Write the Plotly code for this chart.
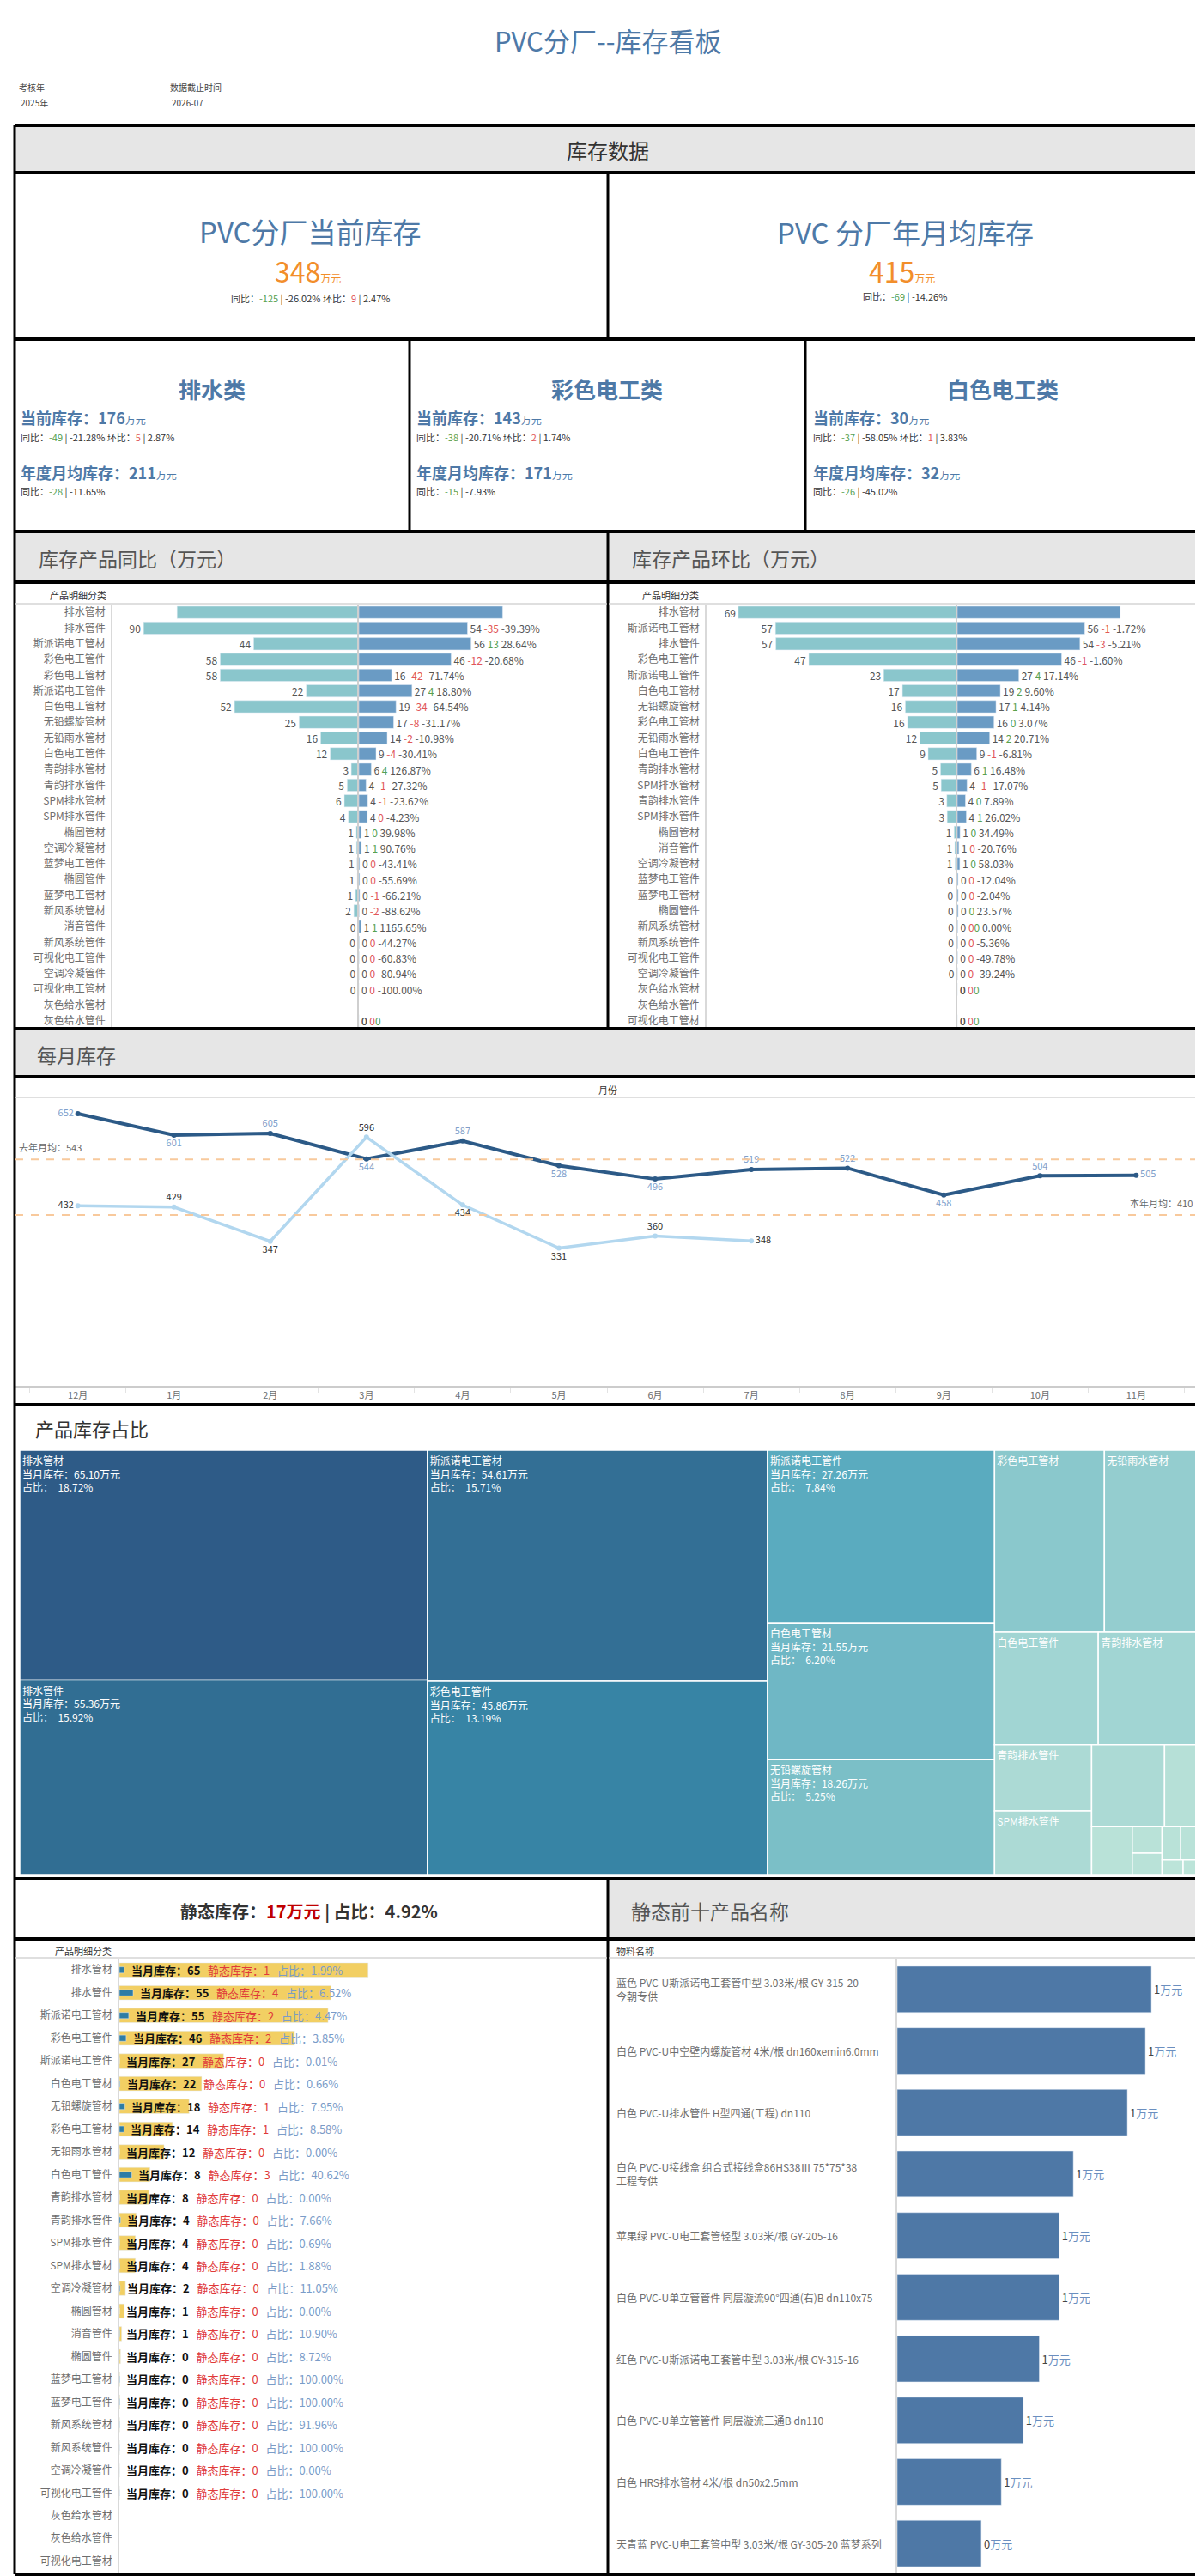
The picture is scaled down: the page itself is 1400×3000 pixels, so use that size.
import plotly.graph_objects as go

W, H = 1400, 3000
FONT = "Noto Sans CJK SC"
BLUE = "#4e79a7"
ORANGE = "#f28e2b"
GREEN = "#59a14f"
RED = "#e15759"
DARK = "#333333"
GRAY = "#555555"

# ---------------- data ----------------
check_year = "2025年"
cutoff = "2026-07"

total_cur, total_yoy, total_yoy_pct, total_mom, total_mom_pct = 348, -125, -26.02, 9, 2.47
total_avg, total_avg_yoy, total_avg_yoy_pct = 415, -69, -14.26

cls_names = ["排水类", "彩色电工类", "白色电工类"]
cls_cur = [176, 143, 30]
cls_yoy = [-49, -38, -37]
cls_yoy_pct = [-21.28, -20.71, -58.05]
cls_mom = [5, 2, 1]
cls_mom_pct = [2.87, 1.74, 3.83]
cls_avg = [211, 171, 32]
cls_avg_yoy = [-28, -15, -26]
cls_avg_yoy_pct = [-11.65, -7.93, -45.02]

# 同比
yoy_cats = ["排水管材", "排水管件", "斯派诺电工管材", "彩色电工管件", "彩色电工管材", "斯派诺电工管件",
            "白色电工管材", "无铅螺旋管材", "无铅雨水管材", "白色电工管件", "青韵排水管材", "青韵排水管件",
            "SPM排水管材", "SPM排水管件", "椭圆管材", "空调冷凝管材", "蓝梦电工管件", "椭圆管件",
            "蓝梦电工管材", "新风系统管材", "消音管件", "新风系统管件", "可视化电工管件", "空调冷凝管件",
            "可视化电工管材", "灰色给水管材", "灰色给水管件"]
yoy_last = [76, 90, 44, 58, 58, 22, 52, 25, 16, 12, 3.2, 4.9, 6.1, 4.4, 1.1, 1.0, 0.8, 0.7,
            1.4, 2.1, 0.1, 0.3, 0.3, 0.2, 0.1, None, 0.0]
yoy_cur = [72, 54.4, 56.2, 46.2, 16.4, 26.6, 18.6, 17.4, 14.2, 8.6, 6.2, 3.6, 4.4, 4.3, 1.2, 1.3,
           0.4, 0.4, 0.45, 0.2, 1.1, 0.2, 0.1, 0.05, 0.0, None, 0.0]
yoy_diff = [None, -35, 13, -12, -42, 4, -34, -8, -2, -4, 4, -1, -1, -0.2, 0.3, 0.6, -0.3, -0.4,
            -0.9, -1.9, 1.0, -0.1, -0.2, -0.2, -0.1, None, None]
yoy_pct = [None, -39.39, 28.64, -20.68, -71.74, 18.80, -64.54, -31.17, -10.98, -30.41, 126.87,
           -27.32, -23.62, -4.23, 39.98, 90.76, -43.41, -55.69, -66.21, -88.62, 1165.65, -44.27,
           -60.83, -80.94, -100.00, None, None]
yoy_hide_left = ["排水管材"]
yoy_hide_right = ["排水管材"]

# 环比
mom_cats = ["排水管材", "斯派诺电工管材", "排水管件", "彩色电工管件", "斯派诺电工管件", "白色电工管材",
            "无铅螺旋管材", "彩色电工管材", "无铅雨水管材", "白色电工管件", "青韵排水管材", "SPM排水管材",
            "青韵排水管件", "SPM排水管件", "椭圆管材", "消音管件", "空调冷凝管材", "蓝梦电工管件",
            "蓝梦电工管材", "椭圆管件", "新风系统管材", "新风系统管件", "可视化电工管件", "空调冷凝管件",
            "灰色给水管材", "灰色给水管件", "可视化电工管材"]
mom_prev = [69, 57.3, 57.2, 46.8, 23.2, 17.3, 16.4, 15.7, 11.8, 9.2, 5.3, 5.1, 3.3, 3.2, 1.0, 0.8,
            0.7, 0.4, 0.4, 0.3, 0.2, 0.2, 0.2, 0.1, 0.0, None, 0.0]
mom_cur = [72, 56.3, 54.2, 46.1, 27.2, 19.0, 17.1, 16.2, 14.3, 8.6, 6.2, 4.3, 3.6, 4.0, 1.2, 0.7,
           1.1, 0.35, 0.4, 0.4, 0.2, 0.2, 0.1, 0.05, 0.0, None, 0.0]
mom_diff = [None, -1, -3, -0.8, 4, 1.8, 0.7, 0.4, 2.4, -0.6, 0.9, -0.9, 0.3, 0.8, 0.3, -0.2, 0.4,
            -0.05, -0.01, 0.08, None, -0.01, -0.1, -0.04, None, None, None]
mom_pct = [None, -1.72, -5.21, -1.60, 17.14, 9.60, 4.14, 3.07, 20.71, -6.81, 16.48, -17.07, 7.89,
           26.02, 34.49, -20.76, 58.03, -12.04, -2.04, 23.57, 0.00, -5.36, -49.78, -39.24, None,
           None, None]
mom_hide_left = []
mom_hide_right = ["排水管材"]

# 每月库存
months = ["12月", "1月", "2月", "3月", "4月", "5月", "6月", "7月", "8月", "9月", "10月", "11月"]
last_year = [652, 601, 605, 544, 587, 528, 496, 519, 522, 458, 504, 505]
this_year = [432, 429, 347, 596, 434, 331, 360, 348]
last_avg = 543
this_avg = 410

# 产品库存占比
tm_labels = ["排水管材", "排水管件", "斯派诺电工管材", "彩色电工管件", "斯派诺电工管件", "白色电工管材",
             "无铅螺旋管材", "彩色电工管材", "无铅雨水管材", "白色电工管件", "青韵排水管材", "青韵排水管件",
             "SPM排水管件", "SPM排水管材", "空调冷凝管材", "椭圆管材", "消音管件", "椭圆管件",
             "蓝梦电工管材", "蓝梦电工管件", "新风系统管材", "可视化电工管件"]
tm_values = [65.10, 55.36, 54.61, 45.86, 27.26, 21.55, 18.26, 13.9, 11.7, 8.1, 7.7, 4.47, 4.35,
             4.15, 1.84, 1.38, 0.55, 0.46, 0.43, 0.37, 0.23, 0.15]
tm_share = ["18.72%", "15.92%", "15.71%", "13.19%", "7.84%", "6.20%", "5.25%"]

# 静态库存
static_total = 17
static_share = 4.92
st_cats = ["排水管材", "排水管件", "斯派诺电工管材", "彩色电工管件", "斯派诺电工管件", "白色电工管材",
           "无铅螺旋管材", "彩色电工管材", "无铅雨水管材", "白色电工管件", "青韵排水管材", "青韵排水管件",
           "SPM排水管件", "SPM排水管材", "空调冷凝管材", "椭圆管材", "消音管件", "椭圆管件",
           "蓝梦电工管材", "蓝梦电工管件", "新风系统管材", "新风系统管件", "空调冷凝管件", "可视化电工管件",
           "灰色给水管材", "灰色给水管件", "可视化电工管材"]
st_cur = [65.1, 55.36, 54.61, 45.86, 27.26, 21.55, 18.26, 13.9, 11.7, 8.0, 7.7, 4.4, 4.2, 4.2,
          1.6, 1.3, 0.6, 0.3, 0.1, 0.1, 0.05, 0.02, 0.02, 0.02, None, None, None]
st_static = [1.3, 3.6, 2.45, 1.77, 0.003, 0.14, 1.45, 1.2, 0.0, 3.25, 0.0, 0.31, 0.03, 0.08, 0.18,
             0.0, 0.07, 0.03, 0.1, 0.1, 0.05, 0.02, 0.0, 0.02, None, None, None]
st_pct = [1.99, 6.52, 4.47, 3.85, 0.01, 0.66, 7.95, 8.58, 0.00, 40.62, 0.00, 7.66, 0.69, 1.88,
          11.05, 0.00, 10.90, 8.72, 100.00, 100.00, 91.96, 100.00, 0.00, 100.00, None, None, None]

# 静态前十
top_names = ["蓝色 PVC-U斯派诺电工套管中型 3.03米/根 GY-315-20<br>今朝专供",
             "白色 PVC-U中空壁内螺旋管材 4米/根 dn160xemin6.0mm",
             "白色 PVC-U排水管件 H型四通(工程) dn110",
             "白色 PVC-U接线盒 组合式接线盒86HS38Ⅲ 75*75*38<br>工程专供",
             "苹果绿 PVC-U电工套管轻型 3.03米/根 GY-205-16",
             "白色 PVC-U单立管管件 同层漩流90°四通(右)B dn110x75",
             "红色 PVC-U斯派诺电工套管中型 3.03米/根 GY-315-16",
             "白色 PVC-U单立管管件 同层漩流三通B dn110",
             "白色 HRS排水管材 4米/根 dn50x2.5mm",
             "天青蓝 PVC-U电工套管中型 3.03米/根 GY-305-20 蓝梦系列"]
top_values = [1.27, 1.24, 1.15, 0.88, 0.81, 0.81, 0.71, 0.63, 0.52, 0.42]


# ---------------- helpers ----------------
def fx(x):
    return x / W


def fy(y):
    return 1 - y / H


def c(s, col):
    return f"<span style='color:{col}'>{s}</span>"


shapes = []
annos = []


def text(x, y, s, size=12, color=GRAY, xanchor="center", yanchor="middle", bold=False):
    annos.append(dict(x=fx(x), y=fy(y), xref="paper", yref="paper", showarrow=False,
                      text=f"<b>{s}</b>" if bold else s, xanchor=xanchor, yanchor=yanchor,
                      font=dict(family=FONT, size=size, color=color)))


def hline(y, x0=9, x1=1391, w=4, color="black"):
    shapes.append(dict(type="line", xref="paper", yref="paper", x0=fx(x0), x1=fx(x1),
                       y0=fy(y), y1=fy(y), line=dict(color=color, width=w)))


def vline(x, y0, y1, w=3, color="black"):
    shapes.append(dict(type="line", xref="paper", yref="paper", x0=fx(x), x1=fx(x),
                       y0=fy(y0), y1=fy(y1), line=dict(color=color, width=w)))


def rect(x0, y0, x1, y1, fill="#e6e6e6"):
    shapes.append(dict(type="rect", xref="paper", yref="paper", x0=fx(x0), x1=fx(x1),
                       y0=fy(y1), y1=fy(y0), fillcolor=fill, line=dict(width=0), layer="below"))


def diff_txt(d):
    if d is None:
        return c("0", RED) + c("0", GREEN)
    return c(str(int(round(d))), RED if d < 0 else GREEN)


def sign_num(v, col):
    return c(str(v), col)


fig = go.Figure()

# ---------------- frame ----------------
rect(9, 138, 1391, 193)
rect(9, 611, 700, 670)
rect(700, 611, 1391, 670)
rect(9, 1190, 1391, 1246)
rect(700, 2180, 1391, 2250)

for yy in [138, 193, 387, 611, 670, 1190, 1246, 1628, 2180, 2250, 2990]:
    hline(yy)
vline(9, 138, 2990, w=3)
vline(1391, 138, 2990, w=3)
vline(700, 193, 387)
vline(469, 387, 611)
vline(930, 387, 611)
vline(700, 611, 1190)
vline(700, 2180, 2990)

# ---------------- header ----------------
text(700, 38, "PVC分厂--库存看板", size=31, color=BLUE)
text(12, 93, "考核年", size=10, color="#444", xanchor="left")
text(14, 111, check_year, size=10, color="#444", xanchor="left")
text(188, 93, "数据截止时间", size=10, color="#444", xanchor="left")
text(190, 111, cutoff, size=10, color="#444", xanchor="left")
text(700, 166, "库存数据", size=24, color=DARK)

# KPI cards
unit = "<span style='font-size:12px'>万元</span>"
text(354, 261, "PVC分厂当前库存", size=33, color=BLUE)
text(350, 307, f"{total_cur}{unit}", size=32, color=ORANGE)
text(354, 339, f"同比：{sign_num(total_yoy, GREEN)} | {total_yoy_pct:.2f}% "
               f"环比：{sign_num(total_mom, RED)} | {total_mom_pct:.2f}%", size=11, color=DARK)
text(1046, 262, "PVC 分厂年月均库存", size=33, color=BLUE)
text(1042, 307, f"{total_avg}{unit}", size=32, color=ORANGE)
text(1046, 337, f"同比：{sign_num(total_avg_yoy, GREEN)} | {total_avg_yoy_pct:.2f}%", size=11, color=DARK)

col_x = [14, 475, 937]
col_c = [239, 699, 1160]
for i, name in enumerate(cls_names):
    text(col_c[i], 445, name, size=26, color=BLUE, bold=True)
    text(col_x[i], 478, f"<b>当前库存：{cls_cur[i]}</b>{unit}", size=18, color=BLUE, xanchor="left")
    text(col_x[i], 501, f"同比：{sign_num(cls_yoy[i], GREEN)} | {cls_yoy_pct[i]:.2f}% "
                        f"环比：{sign_num(cls_mom[i], RED)} | {cls_mom_pct[i]:.2f}%",
         size=11, color=DARK, xanchor="left")
    text(col_x[i], 542, f"<b>年度月均库存：{cls_avg[i]}</b>{unit}", size=18, color=BLUE, xanchor="left")
    text(col_x[i], 564, f"同比：{sign_num(cls_avg_yoy[i], GREEN)} | {cls_avg_yoy_pct[i]:.2f}%",
         size=11, color=DARK, xanchor="left")

# ---------------- diverging bar charts ----------------
text(35, 642, "库存产品同比（万元）", size=23, color=GRAY, xanchor="left")
text(726, 642, "库存产品环比（万元）", size=23, color=GRAY, xanchor="left")
text(83, 685, "产品明细分类", size=11, color=DARK)
text(773, 685, "产品明细分类", size=11, color=DARK)
hline(695, 10, 699, w=1.5, color="#d4d4d4")
hline(695, 701, 1390, w=1.5, color="#d4d4d4")

layout_axes = {}


def diverging(n, cats, left, right, diff, pct, hide_l, hide_r, x0, xm, x1, lmax, rmax):
    xa_l, ya_l = f"x{n}", f"y{n}"
    xa_r, ya_r = f"x{n + 1}", f"y{n + 1}"
    ltxt = ["" if (v is None or cat in hide_l) else f"{v:.0f}" for cat, v in zip(cats, left)]
    rtxt = []
    for cat, v, d, p in zip(cats, right, diff, pct):
        if v is None or cat in hide_r:
            rtxt.append("")
            continue
        s = f"{v:.0f} " + diff_txt(d)
        if p is not None:
            s += f" {p:.2f}%"
        rtxt.append(s)
    common = dict(orientation="h", width=0.78, textposition="outside", cliponaxis=False,
                  constraintext="none", hoverinfo="skip",
                  textfont=dict(family=FONT, size=12, color=GRAY))
    fig.add_trace(go.Bar(y=cats, x=left, text=ltxt, marker_color="#8ac6cc",
                         xaxis=xa_l, yaxis=ya_l, **common))
    fig.add_trace(go.Bar(y=cats, x=right, text=rtxt, marker_color="#6a9bc4",
                         xaxis=xa_r, yaxis=ya_r, **common))
    ydom = [fy(1190), fy(696)]
    rng = [len(cats) - 0.5, -0.5]
    layout_axes[f"xaxis{n}"] = dict(domain=[fx(x0), fx(xm)], range=[lmax, 0], visible=False,
                                    anchor=ya_l)
    layout_axes[f"yaxis{n}"] = dict(domain=ydom, anchor=xa_l, type="category", range=rng,
                                    showgrid=False, showline=True, linecolor="#d9d9d9", linewidth=1.5,
                                    ticks="", ticklabelstandoff=4,
                                    tickfont=dict(family=FONT, size=12, color="#6e6e6e"))
    layout_axes[f"xaxis{n + 1}"] = dict(domain=[fx(xm), fx(x1)], range=[0, rmax], visible=False,
                                        anchor=ya_r)
    layout_axes[f"yaxis{n + 1}"] = dict(domain=ydom, anchor=xa_r, type="category", range=rng,
                                        showgrid=False, showline=True, linecolor="#cfcfcf",
                                        linewidth=1.5, showticklabels=False, ticks="")


diverging(1, yoy_cats, yoy_last, yoy_cur, yoy_diff, yoy_pct, yoy_hide_left, yoy_hide_right,
          123, 410, 696, 103, 123)
diverging(3, mom_cats, mom_prev, mom_cur, mom_diff, mom_pct, mom_hide_left, mom_hide_right,
          815, 1107, 1389, 79, 107)

# ---------------- monthly line chart ----------------
text(33, 1220, "每月库存", size=23, color=GRAY, xanchor="left")
text(700, 1261, "月份", size=11, color=DARK)
hline(1270, 10, 1390, w=1.5, color="#d4d4d4")

ly_pos = ["middle left", "bottom center", "top center", "bottom center", "top center", "bottom center",
          "bottom center", "top center", "top center", "bottom center", "top center", "middle right"]
ty_pos = ["middle left", "top center", "bottom center", "top center", "bottom center", "bottom center",
          "top center", "middle right"]
fig.add_trace(go.Scatter(x=months, y=last_year, mode="lines+markers+text", xaxis="x5", yaxis="y5",
                         line=dict(color="#2c5a87", width=4), marker=dict(size=6, color="#2c5a87"),
                         text=[str(v) for v in last_year], textposition=ly_pos, cliponaxis=False,
                         textfont=dict(family=FONT, size=11, color="#7f9fcb"), hoverinfo="skip"))
fig.add_trace(go.Scatter(x=months[:len(this_year)], y=this_year, mode="lines+markers+text",
                         xaxis="x5", yaxis="y5",
                         line=dict(color="#b2d7ef", width=3.5), marker=dict(size=6, color="#b2d7ef"),
                         text=[str(v) for v in this_year], textposition=ty_pos, cliponaxis=False,
                         textfont=dict(family=FONT, size=11, color=DARK), hoverinfo="skip"))
for val in (last_avg, this_avg):
    shapes.append(dict(type="line", xref="x5 domain", yref="y5", x0=0, x1=1, y0=val, y1=val,
                       line=dict(color="#f8c99c", width=2, dash="dash")))
annos.append(dict(xref="x5 domain", yref="y5", x=0, y=last_avg, text=f"去年月均：{last_avg}",
                  showarrow=False, xanchor="left", yanchor="bottom", yshift=4, xshift=2,
                  font=dict(family=FONT, size=11, color="#666")))
annos.append(dict(xref="x5 domain", yref="y5", x=1, y=this_avg, text=f"本年月均：{this_avg}",
                  showarrow=False, xanchor="right", yanchor="bottom", yshift=4, xshift=-5,
                  font=dict(family=FONT, size=11, color="#666")))
layout_axes["xaxis5"] = dict(domain=[fx(10), fx(1388)], anchor="y5", type="category",
                             categoryarray=months, categoryorder="array",
                             showline=True, linecolor="#cccccc", linewidth=1.5, showgrid=False,
                             ticks="outside", tickson="boundaries", ticklen=6, tickcolor="#e3e3e3",
                             tickfont=dict(family=FONT, size=11, color="#6e6e6e"))
layout_axes["yaxis5"] = dict(domain=[fy(1606), fy(1271)], anchor="x5", range=[2, 689], visible=False)

# ---------------- treemap ----------------
text(31, 1655, "产品库存占比", size=22, color=DARK, xanchor="left")
tm_colors = ["#2e5b87", "#316e93", "#336f95", "#3784a5", "#5aabbf", "#6fb7c5", "#7bbfc7",
             "#8ac8cc", "#94cdcf", "#a1d5d3", "#a1d5d3", "#acdad5", "#acdad5", "#acdad5",
             "#b6e0d7", "#b9e2d8", "#b9e2d8", "#b9e2d8", "#b9e2d8", "#b9e2d8", "#bce4d9", "#bce4d9"]
tm_custom = tm_share + [""] * (len(tm_labels) - len(tm_share))
tm_tmpl = []
for i in range(len(tm_labels)):
    if i < len(tm_share):
        tm_tmpl.append("%{label}<br>当月库存：%{value:.2f}万元<br>占比：  %{customdata}")
    elif i < 13:
        tm_tmpl.append("%{label}")
    else:
        tm_tmpl.append(" ")
fig.add_trace(go.Treemap(labels=tm_labels, parents=[""] * len(tm_labels), values=tm_values,
                         customdata=tm_custom, texttemplate=tm_tmpl, sort=True,
                         domain=dict(x=[fx(15), fx(1386)], y=[fy(2176), fy(1681)]),
                         marker=dict(colors=tm_colors, line=dict(color="white", width=1.5),
                                     pad=dict(t=0, l=0, r=0, b=0)),
                         textposition="top left",
                         textfont=dict(family=FONT, size=12, color="white"),
                         tiling=dict(packing="squarify", squarifyratio=1.618, pad=0),
                         pathbar=dict(visible=False), hoverinfo="skip"))

# ---------------- static stock ----------------
text(352, 2217, f"静态库存：{c(str(static_total) + '万元', '#c00000')} | 占比：{static_share:.2f}%",
     size=20, color=DARK, bold=True)
text(89, 2264, "产品明细分类", size=11, color=DARK)
hline(2272, 10, 699, w=1.5, color="#d4d4d4")

fig.add_trace(go.Bar(y=st_cats, x=st_cur, orientation="h", width=0.63, marker_color="#f2cf63",
                     xaxis="x6", yaxis="y6", hoverinfo="skip"))
fig.add_trace(go.Bar(y=st_cats, x=st_static, orientation="h", width=0.27, marker_color="#2e7ca5",
                     xaxis="x6", yaxis="y6", hoverinfo="skip"))
for cat, cur, st, p in zip(st_cats, st_cur, st_static, st_pct):
    if cur is None:
        continue
    label = (f"<b>当月库存：{cur:.0f}</b>   " + c(f"静态库存：{st:.0f}", "#e03a3a") + "   "
             + c(f"占比：{p:.2f}%", "#7b9cc8"))
    annos.append(dict(xref="x6", yref="y6", x=st, y=cat, text=label, showarrow=False,
                      xanchor="left", xshift=6, font=dict(family=FONT, size=13, color="#111")))
layout_axes["xaxis6"] = dict(domain=[fx(131), fx(699)], range=[0, 127.6], visible=False, anchor="y6")
layout_axes["yaxis6"] = dict(domain=[fy(2988), fy(2273)], anchor="x6", type="category",
                             range=[len(st_cats) - 0.5, -0.5], showgrid=False, showline=True,
                             linecolor="#d9d9d9", linewidth=1.5, ticks="", ticklabelstandoff=4,
                             tickfont=dict(family=FONT, size=12, color="#6e6e6e"))

# ---------------- top 10 static products ----------------
text(725, 2217, "静态前十产品名称", size=23, color=GRAY, xanchor="left")
text(708, 2264, "物料名称", size=11, color=DARK, xanchor="left")
hline(2272, 701, 1390, w=1.5, color="#d4d4d4")
fig.add_trace(go.Bar(y=top_names, x=top_values, orientation="h", width=0.75, marker_color="#4e78a6",
                     text=[f"{v:.0f}" + c("万元", "#6b8fc0") for v in top_values],
                     textposition="outside", cliponaxis=False, constraintext="none",
                     textfont=dict(family=FONT, size=13, color="#444"),
                     xaxis="x7", yaxis="y7", hoverinfo="skip"))
for name in top_names:
    annos.append(dict(xref="paper", yref="y7", x=fx(708), y=name, text=name, showarrow=False,
                      xanchor="left", align="left", font=dict(family=FONT, size=12, color="#6e6e6e")))
layout_axes["xaxis7"] = dict(domain=[fx(1037), fx(1389)], range=[0, 1.51], visible=False, anchor="y7")
layout_axes["yaxis7"] = dict(domain=[fy(2990), fy(2273)], anchor="x7", type="category",
                             range=[len(top_names) - 0.5, -0.5], showgrid=False, showline=True,
                             linecolor="#d9d9d9", linewidth=1.5, showticklabels=False, ticks="")

fig.update_layout(width=W, height=H, margin=dict(l=0, r=0, t=0, b=0),
                  paper_bgcolor="white", plot_bgcolor="white", showlegend=False,
                  barmode="overlay", font=dict(family=FONT, color=GRAY),
                  shapes=shapes, annotations=annos, **layout_axes)

fig.write_html("out.html")
